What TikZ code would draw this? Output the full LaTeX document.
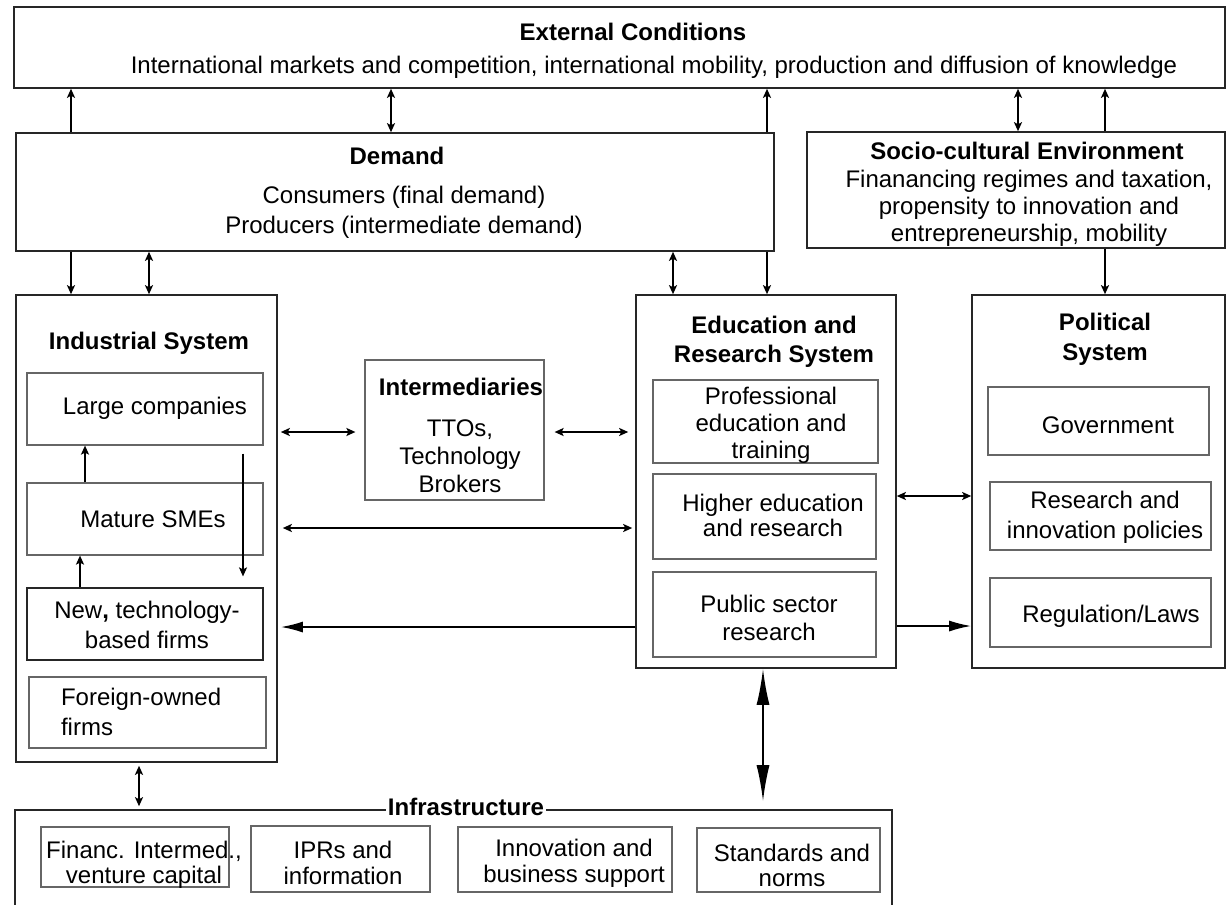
\documentclass[tikz,border=0pt]{standalone}
\usepackage{fontspec}
\setmainfont{Liberation Sans}
\usetikzlibrary{arrows.meta,fit}

\begin{document}
\begin{tikzpicture}[x=0.5pt,y=-0.5pt,
    >={Stealth[length=4.5pt,width=4pt,inset=1pt]},
    outer/.style={draw=black!85,line width=0.8pt,inner sep=0pt},
    inner/.style={draw=black!60,line width=0.6pt,inner sep=0pt},
    txt/.style={align=center,font=\fontsize{12}{#1}\selectfont},
    txt/.default=15,
    head/.style={align=center,font=\fontsize{12}{#1}\selectfont\bfseries},
    head/.default=15,
    link/.style={line width=0.9pt},
    bigtip/.style={-{Latex[length=11pt,width=5.5pt]}}]
  \useasboundingbox (0,0) rectangle (1232,905);

  % External conditions
  \node[outer,fit={(14,7) (1225,88)}] (ext) {};
  \node[head] (exthead) at (633,32) {External Conditions};
  \node[txt] (exttxt) at (654,67) {International markets and competition, international mobility, production and diffusion of knowledge};

  % Demand
  \node[outer,fit={(16,133) (774,251)}] (dem) {};
  \node[head] (demhead) at (397,156) {Demand};
  \node[txt] (demtxt) at (404,212) {Consumers (final demand)\\Producers (intermediate demand)};

  % Socio-cultural environment
  \node[outer,fit={(807,132) (1225,248)}] (soc) {};
  \node[head] (sochead) at (1027,151) {Socio-cultural Environment};
  \node[txt=13.5] (soctxt) at (1029,208) {Finanancing regimes and taxation,\\propensity to innovation and\\entrepreneurship, mobility};

  % Industrial system
  \node[outer,fit={(16,295) (277,762)}] (ind) {};
  \node[head] (indhead) at (149,343) {Industrial System};
  \node[inner,fit={(27,373) (263,445)}] (lar) {};
  \node[txt] (lartxt) at (155,408) {Large companies};
  \node[inner,fit={(27,483) (263,555)}] (mat) {};
  \node[txt] (mattxt) at (153,519) {Mature SMEs};
  \node[inner,draw=black!85,fit={(27,588) (263,660)}] (new) {};
  \node[txt] (newtxt) at (147,625) {New\textbf{,} technology-\\based firms};
  \node[inner,fit={(29,677) (266,748)}] (for) {};
  \node[txt,align=left,anchor=west] (fortxt) at (54,712) {Foreign-owned\\firms};

  % Intermediaries
  \node[inner,fit={(365,360) (544,500)}] (itm) {};
  \node[head] (itmhead) at (461,387) {Intermediaries};
  \node[txt=14] (itmtxt) at (460,456) {TTOs,\\Technology\\Brokers};

  % Education and research system
  \node[outer,fit={(636,295) (896,668)}] (edu) {};
  \node[head=14.5] (eduhead) at (774,342) {Education and\\Research System};
  \node[inner,fit={(653,380) (878,463)}] (pro) {};
  \node[txt=13.5] (protxt) at (771,425) {Professional\\education and\\training};
  \node[inner,fit={(653,474) (876,559)}] (hig) {};
  \node[txt=12.5] (higtxt) at (773,515) {Higher education\\and research};
  \node[inner,fit={(653,572) (876,657)}] (pub) {};
  \node[txt=14] (pubtxt) at (769,618) {Public sector\\research};

  % Political system
  \node[outer,fit={(972,295) (1225,668)}] (pol) {};
  \node[head] (polhead) at (1105,339) {Political\\System};
  \node[inner,fit={(988,387) (1209,455)}] (gov) {};
  \node[txt] (govtxt) at (1108,425) {Government};
  \node[inner,fit={(990,482) (1211,550)}] (rip) {};
  \node[txt] (riptxt) at (1105,517) {Research and\\innovation policies};
  \node[inner,fit={(990,578) (1211,647)}] (reg) {};
  \node[txt] (regtxt) at (1111,616) {Regulation/Laws};

  % Infrastructure (open at the bottom of the page)
  \node[outer,fit={(15,810) (892,930)}] (inf) {};
  \node[head,fill=white,inner sep=1pt] (infhead) at (466,807) {Infrastructure};
  \node[inner,fit={(41,827) (229,887)}] (fin) {};
  \node[txt=12.5] (fintxt) at (144,865) {Financ. Intermed.,\\venture capital};
  \node[inner,fit={(251,826) (430,892)}] (ipr) {};
  \node[txt=13] (iprtxt) at (343,863) {IPRs and\\information};
  \node[inner,fit={(458,827) (672,892)}] (ibs) {};
  \node[txt=13] (ibstxt) at (574,863) {Innovation and\\business support};
  \node[inner,fit={(697,828) (880,892)}] (std) {};
  \node[txt=12.5] (stdtxt) at (792,865) {Standards and\\norms};

  % Arrows between the top boxes
  \draw[link,->] (dem.north -| 71,0) -- (ext.south -| 71,0);
  \draw[link,<->] (dem.north -| 391,0) -- (ext.south -| 391,0);
  \draw[link,->] (dem.north -| 767,0) -- (ext.south -| 767,0);
  \draw[link,<->] (soc.north -| 1018,0) -- (ext.south -| 1018,0);
  \draw[link,->] (soc.north -| 1105,0) -- (ext.south -| 1105,0);
  \draw[link,->] (dem.south -| 71,0) -- (ind.north -| 71,0);
  \draw[link,<->] (dem.south -| 149,0) -- (ind.north -| 149,0);
  \draw[link,<->] (dem.south -| 673,0) -- (edu.north -| 673,0);
  \draw[link,->] (dem.south -| 767,0) -- (edu.north -| 767,0);
  \draw[link,->] (soc.south -| 1105,0) -- (pol.north -| 1105,0);

  % Inside the industrial system
  \draw[link,->] (mat.north -| 85,0) -- (lar.south -| 85,0);
  \draw[link,->] (new.north -| 80,0) -- (mat.south -| 80,0);
  \draw[->,line width=0.7pt] ([yshift=-4pt]lar.south -| 243,0) -- ([yshift=5.5pt]new.north -| 243,0);

  % Arrows between the systems
  \draw[link,<->] ([xshift=1.5pt]ind.east |- 0,432) -- ([xshift=-4.5pt]itm.west |- 0,432);
  \draw[link,<->] ([xshift=5pt]itm.east |- 0,432) -- ([xshift=-3.5pt]edu.west |- 0,432);
  \draw[link,<->] ([xshift=2.5pt]ind.east |- 0,528) -- ([xshift=-1.5pt]edu.west |- 0,528);
  \draw[link,bigtip] (edu.west |- 0,627) -- ([xshift=1.5pt]ind.east |- 0,627);
  \draw[link,<->] (edu.east |- 0,496) -- (pol.west |- 0,496);
  \draw[link,bigtip] (edu.east |- 0,626) -- (pol.west |- 0,626);

  % Arrows to the infrastructure
  \draw[link,<->] ([yshift=-1.5pt]ind.south -| 139,0) -- ([yshift=1.5pt]inf.north -| 139,0);
  \draw[link,{Latex[length=18pt,width=6.5pt]}-{Latex[length=18pt,width=6.5pt]}]
    (edu.south -| 763,0) -- ([yshift=4pt]inf.north -| 763,0);
\end{tikzpicture}
\end{document}
